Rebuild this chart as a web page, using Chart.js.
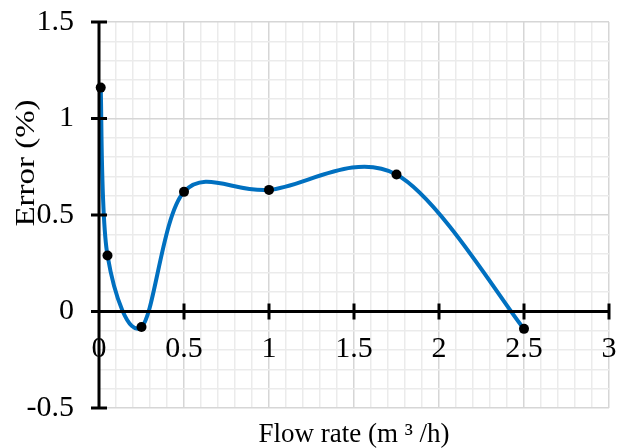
<!DOCTYPE html>
<html>
<head>
<meta charset="utf-8">
<script src="https://cdn.jsdelivr.net/npm/chart.js@4/dist/chart.umd.min.js"></script>
<style>
  html, body { margin: 0; padding: 0; background: #ffffff; }
  #wrap { width: 625px; height: 448px; position: relative; }
</style>
</head>
<body>
<div id="wrap"><canvas id="c" width="625" height="448"></canvas></div>
<script>
// ---- data ----
const flowRate = [0.01, 0.05, 0.25, 0.5, 1, 1.75, 2.5];      // m3/h
const errorPct = [1.16, 0.29, -0.08, 0.62, 0.63, 0.71, -0.09]; // %
const xTickLabels = ['0', '0.5', '1', '1.5', '2', '2.5', '3'];
const yTickLabels = ['-0.5', '0', '0.5', '1', '1.5'];
const xTitle = 'Flow rate (m \u00b3 /h)';
const yTitle = 'Error (%)';

const points = flowRate.map((x, i) => ({ x: x, y: errorPct[i] }));
const serif = "'Liberation Serif', 'Times New Roman', serif";

function isMajor(v) { return Math.abs(v * 2 - Math.round(v * 2)) < 1e-6; }
function labelFor(v, list) {
  if (!isMajor(v)) return '';
  const s = String(Math.round(v * 2) / 2);
  return list.includes(s) ? s : '';
}
function noPad(s) { s.paddingTop = 0; s.paddingBottom = 0; s.paddingLeft = 0; s.paddingRight = 0; }

// Spreadsheet-style smoothing: uniform Catmull-Rom control points (1/6 of neighbour span),
// computed from the pixel positions the library produced for each data point.
const smoothPlugin = {
  id: 'smoothPlugin',
  beforeDatasetsDraw(chart) {
    const meta = chart.getDatasetMeta(0);
    const line = meta.dataset;
    const pts = meta.data;
    if (!line || !pts.length) return;
    if (typeof line.updateControlPoints === 'function') line.updateControlPoints(chart.chartArea, 'x');
    const n = pts.length;
    for (let i = 0; i < n; i++) {
      const p = pts[i];
      const prev = pts[Math.max(i - 1, 0)];
      const next = pts[Math.min(i + 1, n - 1)];
      const dx = (next.x - prev.x) / 6;
      const dy = (next.y - prev.y) / 6;
      p.cp1x = p.x - dx; p.cp1y = p.y - dy;
      p.cp2x = p.x + dx; p.cp2y = p.y + dy;
    }
    line._pointsUpdated = true;
    line._path = undefined;
  }
};

// Black axes with crossing tick marks, plus the rotated y title
const axesPlugin = {
  id: 'axesPlugin',
  afterDatasetsDraw(chart) {
    const { ctx, chartArea, scales } = chart;
    const xs = scales.x, ys = scales.y;
    const x0 = xs.getPixelForValue(0);
    const y0 = ys.getPixelForValue(0);
    ctx.save();
    ctx.strokeStyle = '#000000';
    ctx.lineWidth = 3;
    ctx.lineCap = 'butt';
    ctx.beginPath();
    ctx.moveTo(x0, chartArea.top);
    ctx.lineTo(x0, chartArea.bottom);
    ctx.stroke();
    ctx.beginPath();
    ctx.moveTo(x0 - 8, y0);
    ctx.lineTo(chartArea.right, y0);
    ctx.stroke();
    ys.ticks.forEach(t => {
      if (!isMajor(t.value)) return;
      const py = ys.getPixelForValue(t.value);
      ctx.beginPath();
      ctx.moveTo(x0 - 8, py);
      ctx.lineTo(x0 + 8, py);
      ctx.stroke();
    });
    xs.ticks.forEach(t => {
      if (!isMajor(t.value) || t.value === 0) return;
      const px = xs.getPixelForValue(t.value);
      ctx.beginPath();
      ctx.moveTo(px, y0 - 8);
      ctx.lineTo(px, y0 + 8);
      ctx.stroke();
    });
    ctx.restore();
  },
  afterDraw(chart) {
    const { ctx } = chart;
    ctx.save();
    ctx.fillStyle = '#000000';
    ctx.font = '27px ' + serif;
    ctx.textAlign = 'center';
    ctx.textBaseline = 'middle';
    ctx.translate(27, 163);
    ctx.rotate(-Math.PI / 2);
    ctx.scale(1.22, 1);
    ctx.fillText(yTitle, 0, 0);
    ctx.restore();
  }
};

new Chart(document.getElementById('c'), {
  type: 'scatter',
  data: {
    datasets: [{
      data: points,
      showLine: true,
      tension: 0.4,
      borderColor: '#0070C0',
      borderWidth: 4,
      pointRadius: 5,
      pointHoverRadius: 5,
      pointBackgroundColor: '#000000',
      pointBorderColor: '#000000',
      pointBorderWidth: 0,
      fill: false,
      clip: false
    }]
  },
  options: {
    responsive: false,
    animation: false,
    devicePixelRatio: 1,
    layout: { padding: { top: 22, right: 16, left: 0, bottom: 0 } },
    plugins: {
      legend: { display: false },
      tooltip: { enabled: false },
      title: { display: false }
    },
    scales: {
      x: {
        type: 'linear',
        position: { y: 0 },
        min: 0, max: 3,
        border: { display: false },
        afterFit: noPad,
        grid: {
          drawTicks: false,
          lineWidth: 1.5,
          color: ctx => isMajor(ctx.tick.value) ? '#d6d6d6' : '#ebebeb'
        },
        ticks: {
          stepSize: 0.1,
          autoSkip: false,
          maxRotation: 0,
          padding: 20,
          color: '#000000',
          font: { family: serif, size: 30 },
          callback: v => labelFor(v, xTickLabels)
        }
      },
      xTitleAxis: {
        type: 'linear',
        position: 'bottom',
        min: 0, max: 3,
        border: { display: false },
        grid: { display: false, drawTicks: false },
        ticks: { display: false },
        afterFit: s => { noPad(s); s.height = 40; },
        title: {
          display: true,
          text: xTitle,
          color: '#000000',
          font: { family: serif, size: 27, lineHeight: 1.0 },
          padding: { top: 13, bottom: 0 }
        }
      },
      y: {
        type: 'linear',
        min: -0.5, max: 1.5,
        border: { display: false },
        afterFit: s => { noPad(s); s.width = 99; },
        grid: {
          drawTicks: false,
          lineWidth: 1.5,
          color: ctx => isMajor(ctx.tick.value) ? '#d6d6d6' : '#ebebeb'
        },
        ticks: {
          stepSize: 0.1,
          autoSkip: false,
          padding: 25,
          color: '#000000',
          font: { family: serif, size: 30 },
          callback: v => labelFor(v, yTickLabels)
        }
      }
    }
  },
  plugins: [smoothPlugin, axesPlugin]
});
</script>
</body>
</html>
